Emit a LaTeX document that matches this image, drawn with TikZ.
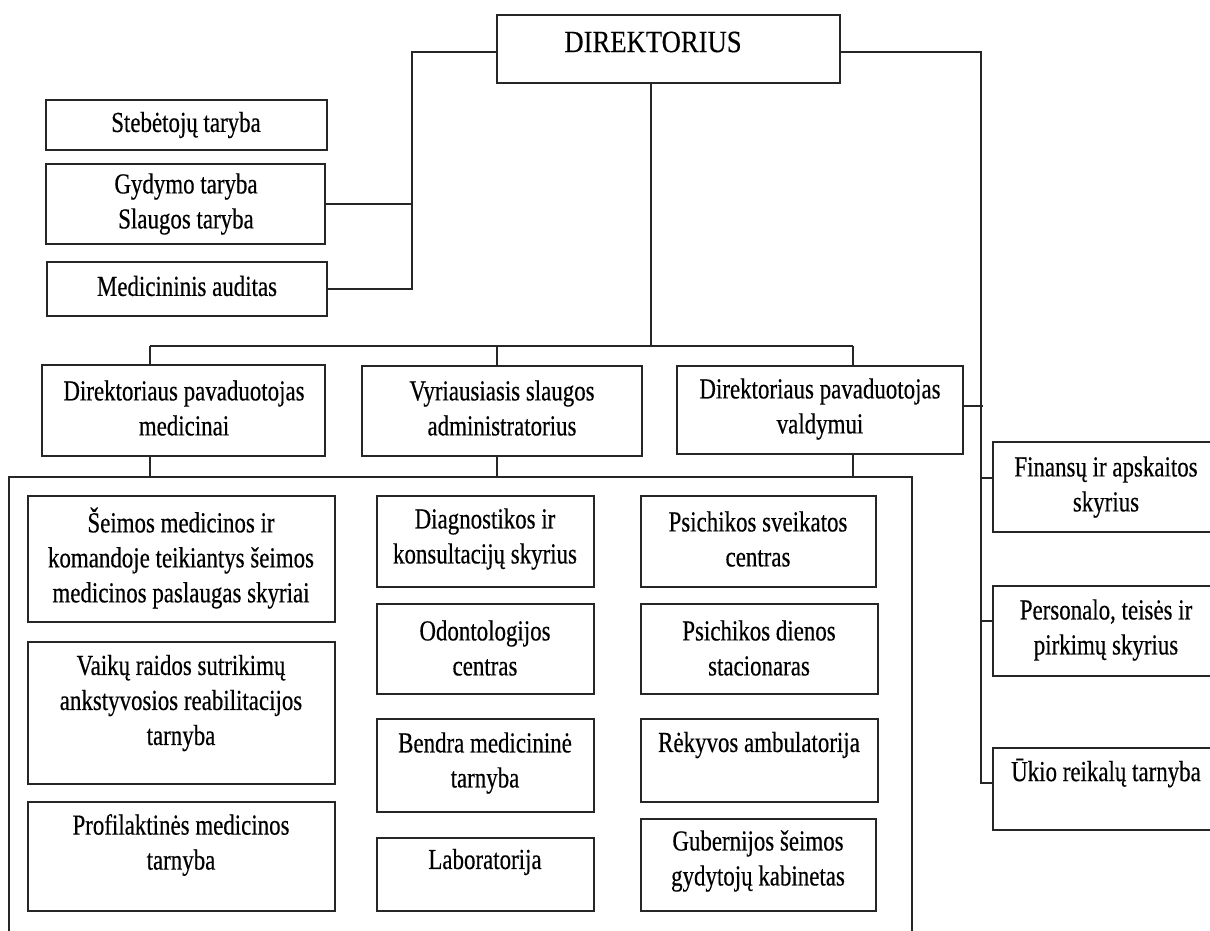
\documentclass[tikz,border=0pt]{standalone}
\usepackage{fontspec}
\setmainfont[FakeStretch=0.79,FakeBold=0.4]{Liberation Serif}
\newfontfamily\dirfont[FakeStretch=0.86,FakeBold=0.4]{Liberation Serif}
\tikzset{
  ln/.style={line width=1.8pt, draw=black!85},
  bx/.style={draw=black!85, line width=1.8pt, rectangle, inner sep=0pt},
  tx/.style={align=center, inner sep=0pt, font=\fontsize{29}{35}\selectfont},
}
\newcommand\mkbox[5]{\node[bx, minimum width={(#4-#2)*1pt}, minimum height={(#5-#3)*1pt}] (#1) at ({(#2+#4)/2},{(#3+#5)/2}) {};}
\begin{document}
\begin{tikzpicture}[x=1pt,y=-1pt]
\useasboundingbox (0,0) rectangle (1210,930);
% boxes
\mkbox{DIR}{497}{15}{840}{83}
\mkbox{Steb}{46}{100}{327}{150}
\mkbox{Gyd}{46}{164}{325}{244}
\mkbox{Med}{47}{262}{327}{316}
\mkbox{Pmed}{42}{365}{325}{456}
\mkbox{Vyr}{362}{366}{642}{456}
\mkbox{Pval}{677}{366}{963}{454}
\mkbox{Fin}{993}{442}{1216}{532}
\mkbox{Pers}{993}{586}{1216}{676}
\mkbox{Uk}{993}{748}{1216}{830}
\mkbox{Seim}{28}{496}{335}{622}
\mkbox{Vaik}{28}{642}{335}{784}
\mkbox{Prof}{28}{802}{335}{911}
\mkbox{Diag}{377}{496}{594}{587}
\mkbox{Odon}{377}{604}{594}{694}
\mkbox{Bend}{377}{719}{594}{812}
\mkbox{Lab}{377}{838}{594}{911}
\mkbox{Psv}{641}{496}{876}{587}
\mkbox{Psd}{641}{604}{878}{694}
\mkbox{Rek}{641}{719}{878}{802}
\mkbox{Gub}{641}{819}{876}{911}
% texts
\node[tx, font=\dirfont\fontsize{31}{35}\selectfont] (DIR-t) at (653,42) {DIREKTORIUS};
\node[tx] (Steb-t) at (186,125) {Stebėtojų taryba};
\node[tx] (Gyd-t) at (186,204) {Gydymo taryba\\Slaugos taryba};
\node[tx] (Med-t) at (187,286) {Medicininis auditas};
\node[tx] (Pmed-t) at (184,408) {Direktoriaus pavaduotojas\\medicinai};
\node[tx] (Vyr-t) at (502,408) {Vyriausiasis slaugos\\administratorius};
\node[tx] (Pval-t) at (820,409) {Direktoriaus pavaduotojas\\valdymui};
\node[tx] (Fin-t) at (1106,487) {Finansų ir apskaitos\\skyrius};
\node[tx] (Pers-t) at (1106,630) {Personalo, teisės ir\\pirkimų skyrius};
\node[tx] (Uk-t) at (1106,773) {Ūkio reikalų tarnyba};
\node[tx] (Seim-t) at (181,558) {Šeimos medicinos ir\\komandoje teikiantys šeimos\\medicinos paslaugas skyriai};
\node[tx] (Vaik-t) at (181,703) {Vaikų raidos sutrikimų\\ankstyvosios reabilitacijos\\tarnyba};
\node[tx] (Prof-t) at (181,845) {Profilaktinės medicinos\\tarnyba};
\node[tx] (Diag-t) at (485,539) {Diagnostikos ir\\konsultacijų skyrius};
\node[tx] (Odon-t) at (485,648) {Odontologijos\\centras};
\node[tx] (Bend-t) at (485,763) {Bendra medicininė\\tarnyba};
\node[tx] (Lab-t) at (485,862) {Laboratorija};
\node[tx] (Psv-t) at (758,539) {Psichikos sveikatos\\centras};
\node[tx] (Psd-t) at (759,648) {Psichikos dienos\\stacionaras};
\node[tx] (Rek-t) at (759,745) {Rėkyvos ambulatorija};
\node[tx] (Gub-t) at (758,861) {Gubernijos šeimos\\gydytojų kabinetas};
% left connectors
\coordinate (lt) at (412,52);
\draw[ln] ([yshift=-3pt]DIR.west) -- (lt) -- (lt |- Med.east) -- (Med.east);
\draw[ln] (Gyd.east) -- (Gyd.east -| lt);
% right connectors
\coordinate (rt) at (981,52);
\coordinate (rb) at (981,783);
\draw[ln] ([yshift=-3pt]DIR.east) -- (rt) -- (rb) -- (rb -| Uk.west);
\coordinate (jf) at (981,478);
\draw[ln] (jf) -- (jf -| Fin.west);
\coordinate (jp) at (981,621);
\draw[ln] (jp) -- (jp -| Pers.west);
\coordinate (js) at (983,406);
\draw[ln] (js -| Pval.east) -- (js);
% central tree
\coordinate (bar) at (651,346);
\coordinate (bl) at (150,346);
\coordinate (bv) at (497,346);
\coordinate (br) at (853,346);
\draw[ln] (DIR.south -| bar) -- (bar);
\draw[ln] (bl) -- (br);
\draw[ln] (bl) -- (bl |- Pmed.north);
\draw[ln] (bv) -- (bv |- Vyr.north);
\draw[ln] (br) -- (br |- Pval.north);
% enclosing frame
\coordinate (etl) at (9,477);
\coordinate (etr) at (912,477);
\coordinate (ebl) at (9,936);
\coordinate (ebr) at (912,936);
\draw[ln] (ebl) -- (etl) -- (etr) -- (ebr);
\draw[ln] (Pmed.south -| bl) -- (bl |- etl);
\draw[ln] (Vyr.south -| bv) -- (bv |- etl);
\draw[ln] (Pval.south -| br) -- (br |- etl);
\end{tikzpicture}
\end{document}
